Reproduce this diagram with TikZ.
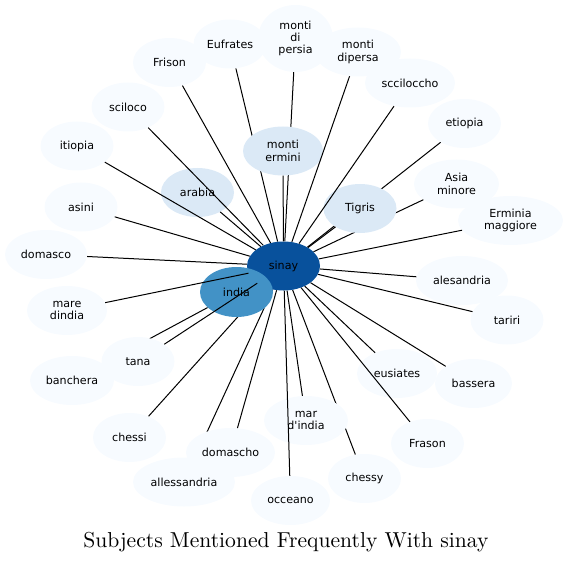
\documentclass[tikz,border=0pt]{standalone}
\usepackage{fontspec}
\newfontfamily\labelfont{DejaVu Sans}
\newfontfamily\titlefont{lmroman10-regular.otf}
\usetikzlibrary{shapes.geometric,backgrounds}
\definecolor{hubblue}{HTML}{08519C}
\definecolor{indiablue}{HTML}{4292C6}
\definecolor{midblue}{HTML}{DBE9F6}
\definecolor{leafblue}{HTML}{F7FBFF}
\begin{document}
\begin{tikzpicture}[x=1pt, y=-1pt,
        leaf/.style={ellipse, fill=leafblue, minimum width=73pt,
                     minimum height=49pt, inner sep=0pt, align=center,
                     font=\labelfont\fontsize{11.1}{12.3}\selectfont},
        topic/.style={leaf, fill=midblue},
        core/.style={leaf, fill=hubblue},
        link/.style={line width=1pt}]
      \useasboundingbox (0,0) rectangle (569,561);
      % outer ring
      \node[leaf] (frison)      at (169.5,62.5) {Frison};
      \node[leaf] (eufrates)    at (230,44)     {Eufrates};
      \node[leaf, minimum width=75pt, minimum height=67pt]
                  (persia)      at (295.5,38.5) {monti\\di\\persia};
      \node[leaf, minimum width=86pt] (dipersa) at (358,52) {monti\\dipersa};
      \node[leaf, minimum width=90pt] (scciloccho) at (410,83) {scciloccho};
      \node[leaf] (etiopia)     at (464.5,123.5){etiopia};
      \node[leaf, minimum width=85pt] (asiaminore) at (456.5,184) {Asia\\minore};
      \node[leaf, minimum width=105pt] (erminia) at (510.5,220.5) {Erminia\\maggiore};
      \node[leaf, minimum width=92pt] (alesandria) at (462,280.5) {alesandria};
      \node[leaf] (tariri)      at (507,320)    {tariri};
      \node[leaf, minimum width=80pt] (eusiates) at (397,373.5) {eusiates};
      \node[leaf, minimum width=77pt] (bassera)  at (473.5,383.5) {bassera};
      \node[leaf, minimum width=84pt] (mardindia) at (306,420.5) {mar\\d'india};
      \node[leaf] (frason)      at (427.5,443.5){Frason};
      \node[leaf] (chessy)      at (364.5,478.5){chessy};
      \node[leaf, minimum width=79pt] (occeano) at (290.5,500.5) {occeano};
      \node[leaf, minimum width=102pt] (allessandria) at (184,482) {allessandria};
      \node[leaf, minimum width=89pt] (domascho) at (230.5,452.5) {domascho};
      \node[leaf] (chessi)      at (129.5,437.5){chessi};
      \node[leaf, minimum width=84pt] (banchera) at (72,380.5) {banchera};
      \node[leaf] (tana)        at (138,361.5)  {tana};
      \node[leaf, minimum width=80pt] (maredindia) at (67,310.5) {mare\\dindia};
      \node[leaf, minimum width=82pt] (domasco) at (46,254.5) {domasco};
      \node[leaf] (asini)       at (81,207)     {asini};
      \node[leaf] (itiopia)     at (77,146)     {itiopia};
      \node[leaf] (sciloco)     at (128,107)    {sciloco};
      % inner ring
      \node[topic] (arabia)     at (197.5,192.5){arabia};
      \node[topic, minimum width=80pt] (montiermini) at (283,151) {monti\\ermini};
      \node[topic] (tigris)     at (360,208.5)  {Tigris};
      \node[core]  (sinay)      at (283.5,266)  {sinay};
      \node[leaf, fill=indiablue, minimum height=50pt] (india) at (236.5,292) {india};
      % links hidden behind other nodes
      \begin{pgfonlayer}{background}
        \draw[link] (eufrates)     -- (sinay);
        \draw[link] (persia)       -- (sinay);
        \draw[link] (etiopia)      -- (sinay);
        \draw[link] (asiaminore)   -- (sinay);
        \draw[link] (chessy)       -- (sinay);
        \draw[link] (allessandria) -- (sinay);
        \draw[link] (chessi)       -- (sinay);
        \draw[link] (banchera)     -- (india);
      \end{pgfonlayer}
      % links on top
      \draw[link] (frison)      -- (sinay);
      \draw[link] (montiermini) -- (sinay);
      \draw[link] (dipersa)     -- (sinay);
      \draw[link] (scciloccho)  -- (sinay);
      \draw[link] (tigris)      -- (sinay);
      \draw[link] (erminia)     -- (sinay);
      \draw[link] (alesandria)  -- (sinay);
      \draw[link] (tariri)      -- (sinay);
      \draw[link] (bassera)     -- (sinay);
      \draw[link] (eusiates)    -- (sinay);
      \draw[link] (frason)      -- (sinay);
      \draw[link] (mardindia)   -- (sinay);
      \draw[link] (occeano)     -- (sinay);
      \draw[link] (domascho)    -- (sinay);
      \draw[link] (tana)        -- (sinay);
      \draw[link] (maredindia)  -- (sinay);
      \draw[link] (domasco)     -- (sinay);
      \draw[link] (asini)       -- (sinay);
      \draw[link] (itiopia)     -- (sinay);
      \draw[link] (sciloco)     -- (sinay);
      \draw[link] (arabia)      -- (sinay);
      \node[font=\titlefont\fontsize{21.6}{24}\selectfont, anchor=base]
           (title) at (286,547) {Subjects Mentioned Frequently With sinay};
    \end{tikzpicture}
\end{document}
